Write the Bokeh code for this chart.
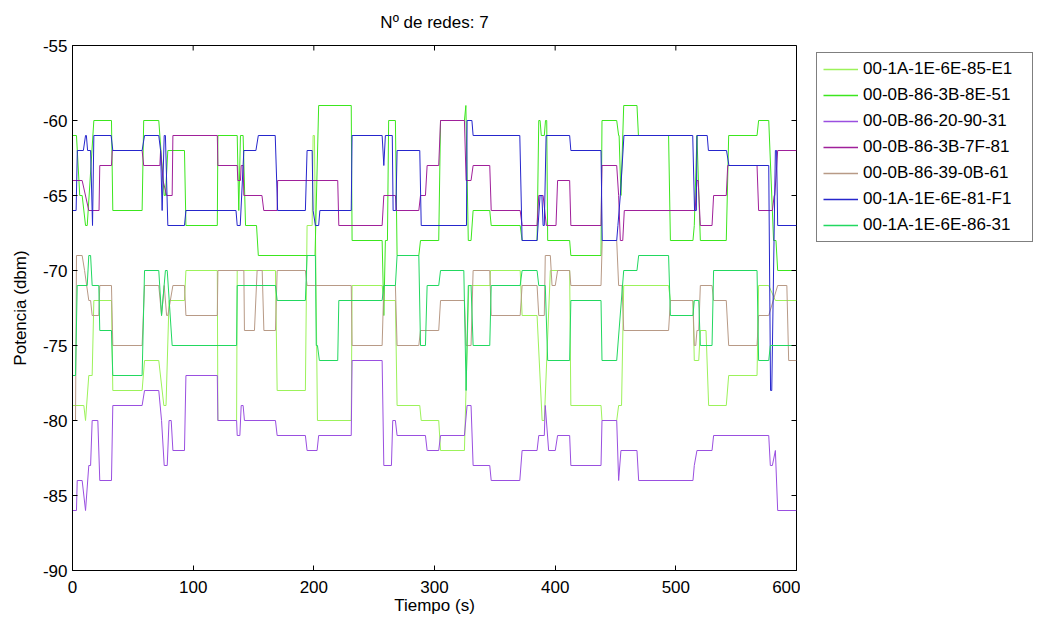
import math
from bokeh.plotting import figure
from bokeh.layouts import row
from bokeh.models import Legend, LegendItem, FixedTicker, Range1d
from bokeh.embed import file_html
from bokeh.resources import INLINE

# Received power of each access point, as flat stretches (start s, end s, dBm).
# Consecutive stretches are joined by straight lines, as in the sampled trace.
net_85e1 = [(0, 9.4, -79), (10.8, 10.8, -80), (13.5, 16.3, -77), (17.7, 32.3, -72),
            (33.4, 57.7, -78), (59.7, 71.5, -76), (75.7, 77.5, -79), (80, 92.8, -72),
            (94, 120, -70), (120.5, 136, -80), (136.5, 168.2, -70), (169.6, 193, -78),
            (194.4, 198.6, -67), (199.4, 200.5, -61), (203, 231, -80), (231.7, 256.6, -71),
            (258, 267.6, -72), (269, 287.8, -79), (289, 303.5, -80), (305, 324.8, -82),
            (328.4, 346, -71), (346.4, 371, -70), (372.6, 385, -73), (389.2, 391, -80),
            (396, 412, -70), (413, 438, -79), (438.8, 451, -80), (452.6, 455, -79),
            (456.8, 494, -71), (495.5, 514.2, -72), (515.3, 519, -76), (520.3, 525, -74),
            (527.2, 541.8, -79), (543.8, 567.3, -77), (568.6, 577, -71), (582.5, 600, -72)]

net_8e51 = [(0, 3.3, -61), (6, 8, -65), (10.8, 12.2, -67), (17.7, 32.3, -60),
            (33.4, 57.7, -66), (59, 71.5, -60), (76, 77, -65), (79, 92.8, -62),
            (94, 120, -67), (120.5, 136.5, -61), (137.8, 137.8, -66), (139.2, 141.4, -61),
            (143.4, 152.5, -67), (154, 201, -69), (204, 231, -59), (231.7, 256.6, -68),
            (258, 258, -73), (259.3, 261, -68), (262, 267.6, -60), (269, 287, -69),
            (288.4, 303.5, -68), (305, 324.8, -60), (326, 326, -59), (328, 330.3, -68),
            (332, 345.8, -66), (347, 371, -67), (372.6, 385, -68), (386.4, 387.5, -60),
            (388.5, 391, -61), (392, 393, -60), (393.8, 412, -68), (413, 438, -69),
            (438.8, 451, -60), (452.6, 453, -61), (454.5, 454.5, -65), (456.8, 467.8, -59),
            (469, 494, -61), (495.5, 514.2, -68), (515.3, 515.3, -67), (517.5, 517.5, -61),
            (520.3, 541.8, -68), (543.8, 567.3, -61), (568.6, 577, -60), (581, 583, -68),
            (584.4, 600, -70)]

net_9031 = [(0, 3.3, -86), (3.9, 8, -84), (10.8, 10.8, -86), (13.5, 15, -83),
            (16.3, 21, -80), (22.6, 32.3, -84), (33.4, 57.7, -79), (59.7, 71.5, -78),
            (73.8, 73.8, -80), (76, 78.5, -83), (80, 81.8, -80), (83.2, 92.8, -82),
            (94, 120, -77), (120.5, 136, -80), (136.5, 138.7, -81), (139.8, 141.4, -79),
            (142.5, 168.2, -80), (169.6, 193, -81), (194.4, 202.7, -82), (204, 231, -81),
            (231.7, 256.6, -76), (258, 264.3, -83), (265.4, 267.6, -80), (269, 292.5, -81),
            (293.9, 303.5, -82), (305, 324.8, -81), (327, 330.3, -79), (332, 345.8, -83),
            (347, 370.7, -84), (372.6, 385, -82), (386.4, 391, -81), (391.8, 391.8, -79),
            (394.6, 400.1, -82), (402, 412, -81), (413, 438, -83), (438.8, 451, -80),
            (452.6, 452.6, -84), (454.5, 467.8, -82), (469.2, 514.2, -84), (515.3, 515.3, -83),
            (517.5, 530, -82), (531.3, 577, -81), (578.3, 580, -83), (582.5, 582.5, -82),
            (584.4, 600, -86)]

net_7f81 = [(0, 8, -64), (13.5, 22, -66), (22.6, 32.3, -63), (33, 57.7, -62),
            (59, 72.4, -63), (73, 73, -62), (75, 75, -64), (78, 82.6, -65),
            (83.2, 120, -61), (120.5, 136.5, -63), (137, 139.2, -64), (139.8, 141.4, -63),
            (142, 157, -65), (158.5, 169.6, -66), (170, 219.8, -64), (220.7, 256.6, -67),
            (258, 267.6, -65), (268.5, 287, -66), (288.4, 292.5, -65), (293.9, 303.5, -63),
            (305, 324.8, -60), (326.2, 330.3, -64), (332, 345.8, -63), (347, 371, -66),
            (372.6, 385, -67), (386.4, 390, -65), (392.7, 400.7, -67), (402, 412, -64),
            (413, 438, -67), (438.8, 451, -63), (452.6, 452.6, -65), (454, 456, -68),
            (457.3, 516, -66), (517.5, 518.5, -64), (520.3, 530, -67), (531.3, 541.8, -65),
            (543, 567.3, -63), (568.6, 580, -66), (581.5, 582, -65), (584.4, 600, -62)]

net_0b61 = [(0, 2.5, -80), (3.3, 8, -69), (10, 10, -70), (13.5, 15, -72),
            (16.3, 21.8, -73), (22.6, 32.3, -71), (33.4, 57.7, -75), (59.7, 71.5, -71),
            (73.8, 73.8, -73), (76, 76, -71), (78, 79, -73), (83.2, 92.8, -71),
            (94, 120, -73), (120.5, 142, -70), (142.5, 150.8, -74), (153, 157.2, -70),
            (158.6, 168.2, -74), (169.6, 193, -70), (194.4, 231, -71), (231.7, 256.6, -75),
            (258, 267.6, -71), (269, 287, -75), (288.4, 303.5, -74), (305, 324.8, -72),
            (326.2, 330.3, -75), (332, 345.8, -70), (347, 371, -73), (372.6, 385, -71),
            (386.4, 391, -73), (391.8, 396, -69), (397.4, 400.1, -71), (402, 412, -70),
            (413, 438, -71), (439, 451, -68), (452.6, 455.4, -71), (456.8, 494, -74),
            (495.5, 514.2, -72), (515.3, 516.5, -75), (517.5, 519, -74), (520.3, 530, -71),
            (531.3, 541.8, -72), (543.8, 567.3, -75), (568.6, 577, -73), (584.4, 592, -71),
            (593.5, 600, -76)]

net_81f1 = [(0, 3, -66), (4, 9, -62), (10.8, 11.5, -61), (12.5, 15, -62),
            (16.6, 16.6, -67), (17.7, 32, -61), (33.4, 57.7, -62), (59.7, 71.5, -61),
            (73, 73, -62), (74.3, 74.3, -66), (76, 77, -61), (79, 92.8, -67),
            (94, 135.5, -66), (136.5, 139, -67), (142, 152, -62), (154, 168, -61),
            (170, 193, -66), (194.4, 198.6, -62), (199.4, 199.4, -66), (201.3, 204, -67),
            (205, 231, -66), (231.7, 256.6, -61), (258, 258, -63), (259.3, 265, -61),
            (265.7, 268, -66), (269, 287.8, -62), (289, 326.5, -67), (327, 331, -60),
            (332, 370.7, -61), (372.6, 385, -68), (387.5, 389, -65), (390, 391, -67),
            (392.5, 412, -61), (413, 438, -62), (439, 451, -68), (452, 452, -67),
            (454, 454, -65), (457, 514, -61), (515.5, 517, -66), (517.5, 526, -61),
            (527, 542, -62), (544, 577, -63), (578.5, 579.5, -78), (582.5, 583.5, -62),
            (584.4, 600, -67)]

net_8631 = [(0, 2.5, -77), (3.9, 12.2, -71), (13.5, 15, -69), (16.3, 21.8, -71),
            (22.6, 32.3, -74), (33.4, 57.7, -77), (59.7, 71.5, -70), (73.8, 73.8, -73),
            (77, 78.5, -70), (82.6, 136, -75), (136.5, 168.2, -71), (169.6, 193, -72),
            (194.4, 201.3, -69), (202, 203, -75), (204.6, 219.8, -76), (220.7, 256.6, -72),
            (258, 267.6, -71), (269, 287, -69), (288.4, 292.5, -75), (293.9, 303.5, -71),
            (305, 324.3, -70), (326.2, 326.2, -78), (328, 330.3, -71), (332, 345.8, -75),
            (347, 371, -71), (372.6, 385, -70), (386.4, 391.8, -71), (393.8, 412, -76),
            (413, 438, -72), (438.8, 451, -76), (456.8, 467.8, -70), (469.2, 494, -69),
            (495.5, 514.2, -73), (515.3, 519, -72), (520.3, 530, -75), (531.3, 567.3, -70),
            (568.6, 577, -76), (578.3, 600, -75)]

names = ["00-1A-1E-6E-85-E1", "00-0B-86-3B-8E-51", "00-0B-86-20-90-31",
         "00-0B-86-3B-7F-81", "00-0B-86-39-0B-61", "00-1A-1E-6E-81-F1",
         "00-1A-1E-6E-86-31"]
series = [net_85e1, net_8e51, net_9031, net_7f81, net_0b61, net_81f1, net_8631]
colors = ["#9cf25a", "#3ce61e", "#9a4fe0", "#a0209a", "#b89a86", "#2626cc", "#22d860"]

x_ticks = [0, 100, 200, 300, 400, 500, 600]
y_ticks = [-90, -85, -80, -75, -70, -65, -60, -55]
x_min, x_max = 0, 600
y_min, y_max = -90, -55

FONT = "Liberation Sans"

# main axes
p = figure(width=800, height=621, x_range=Range1d(x_min, x_max), y_range=Range1d(y_min, y_max),
           output_backend="svg", toolbar_location=None,
           min_border_left=72, min_border_right=4, min_border_top=43, min_border_bottom=51)
p.background_fill_color = "white"
p.border_fill_color = "white"
p.grid.visible = False
p.outline_line_color = "black"
p.outline_line_width = 1

p.title.text = "Nº de redes: 7"
p.title.align = "center"
p.title.vertical_align = "top"
p.title.text_font = FONT
p.title.text_font_size = "17px"
p.title.text_font_style = "normal"
p.title.text_color = "black"
p.title.text_line_height = 1.0
p.title.standoff = 24

for flats, col in zip(series, colors):
    xs, ys = [], []
    for start, end, level in flats:
        xs += [start, end]
        ys += [level, level]
    p.line(xs, ys, line_color=col, line_width=1)

# inward tick marks on the top and right edges of the box
p.ray(x=x_ticks, y=[y_max] * len(x_ticks), length=5, length_units="screen",
      angle=-math.pi / 2, line_color="black", line_width=1)
p.ray(x=[x_max] * len(y_ticks), y=y_ticks, length=5, length_units="screen",
      angle=math.pi, line_color="black", line_width=1)


def style_axis(ax):
    ax.major_tick_in = 5
    ax.major_tick_out = 0
    ax.minor_tick_in = 0
    ax.minor_tick_out = 0
    ax.axis_line_color = "black"
    ax.major_tick_line_color = "black"
    ax.major_label_text_font = FONT
    ax.major_label_text_font_size = "17px"
    ax.major_label_text_color = "black"
    ax.axis_label_text_font = FONT
    ax.axis_label_text_font_size = "17px"
    ax.axis_label_text_font_style = "normal"
    ax.axis_label_text_color = "black"


xa = p.xaxis[0]
ya = p.yaxis[0]
xa.ticker = FixedTicker(ticks=x_ticks)
ya.ticker = FixedTicker(ticks=y_ticks)
style_axis(xa)
style_axis(ya)
ya.major_label_overrides = {t: str(t) for t in y_ticks}
xa.axis_label = "Tiempo (s)"
ya.axis_label = "Potencia (dbm)"
xa.major_label_standoff = 10
ya.major_label_standoff = 5
xa.axis_label_standoff = 0
ya.axis_label_standoff = 10

# legend panel to the right of the axes
q = figure(width=250, height=621, x_range=Range1d(0, 1), y_range=Range1d(0, 1),
           x_axis_type=None, y_axis_type=None, output_backend="svg", toolbar_location=None,
           min_border=0)
q.outline_line_color = None
q.grid.visible = False
q.background_fill_color = "white"
q.border_fill_color = "white"

items = []
for name, col in zip(names, colors):
    # a single undefined point: nothing is drawn in the panel, only the legend swatch
    swatch = q.line(x=[float("nan")], y=[float("nan")], line_color=col, line_width=1.4)
    items.append(LegendItem(label=name, renderers=[swatch]))

legend = Legend(items=items, location=(16, 328))
legend.label_text_font = FONT
legend.label_text_font_size = "17px"
legend.label_text_color = "black"
legend.glyph_width = 35
legend.glyph_height = 20
legend.label_height = 20
legend.label_width = 163
legend.label_standoff = 5
legend.spacing = 6
legend.padding = 6
legend.margin = 0
legend.border_line_color = "black"
legend.border_line_width = 1
legend.background_fill_color = "white"
q.add_layout(legend, "center")

open("out.html", "w").write(file_html(row(p, q), INLINE))
